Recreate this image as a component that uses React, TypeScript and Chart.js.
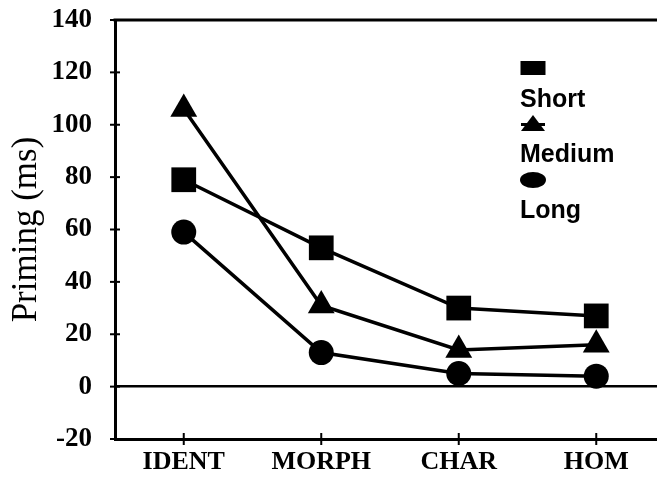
import React, { useEffect, useRef } from "react";
import { Chart, registerables } from "chart.js";

Chart.register(...registerables);

const categories = ["IDENT", "MORPH", "CHAR", "HOM"];
const seriesNames = ["Short", "Medium", "Long"];
const shortValues = [79, 53, 30, 27];
const mediumValues = [106, 31, 14, 16];
const longValues = [59, 13, 5, 4];
const yTicks = [-20, 0, 20, 40, 60, 80, 100, 120, 140];
const yTitle = "Priming (ms)";

const BLACK = "#000000";

const framePlugin = {
  id: "frame",
  afterDraw(chart: any) {
    const { ctx, chartArea } = chart;
    const xs = chart.scales.x;
    const ys = chart.scales.y;
    ctx.save();
    ctx.strokeStyle = BLACK;
    // top border
    ctx.lineWidth = 3;
    ctx.beginPath();
    ctx.moveTo(chartArea.left - 1.5, chartArea.top);
    ctx.lineTo(chartArea.right + 5, chartArea.top);
    ctx.stroke();
    // crossing ticks
    ctx.lineWidth = 2;
    yTicks.forEach((v) => {
      const py = ys.getPixelForValue(v);
      ctx.beginPath();
      ctx.moveTo(chartArea.left - 5, py);
      ctx.lineTo(chartArea.left + 5, py);
      ctx.stroke();
    });
    categories.forEach((_, i) => {
      const px = xs.getPixelForValue(i);
      ctx.beginPath();
      ctx.moveTo(px, chartArea.bottom - 6);
      ctx.lineTo(px, chartArea.bottom + 6);
      ctx.stroke();
    });
    // legend
    const lx = 533;
    const tx = 520;
    const markerY = [68, 124, 180];
    const textY = [100, 155, 211];
    ctx.fillStyle = BLACK;
    // square
    ctx.fillRect(lx - 12.5, markerY[0] - 7, 25, 14);
    // triangle
    ctx.beginPath();
    ctx.moveTo(lx, markerY[1] - 9);
    ctx.lineTo(lx + 12, markerY[1] + 7);
    ctx.lineTo(lx - 12, markerY[1] + 7);
    ctx.closePath();
    ctx.fill();
    ctx.fillRect(lx - 12, markerY[1] - 1, 24, 3);
    // ellipse
    ctx.beginPath();
    ctx.ellipse(lx, markerY[2], 13, 8, 0, 0, Math.PI * 2);
    ctx.fill();
    ctx.font = "bold 25px 'Liberation Sans', Arial, sans-serif";
    ctx.textAlign = "left";
    ctx.textBaseline = "middle";
    seriesNames.forEach((name, i) => {
      ctx.fillText(name, tx, textY[i]);
    });
    ctx.restore();
  },
};

export default function App() {
  const canvasRef = useRef<HTMLCanvasElement | null>(null);

  useEffect(() => {
    const canvas = canvasRef.current;
    if (!canvas) return;
    const leftW = 115;
    const spacing = 137.5;
    const xMin = -0.5;
    const xMax = xMin + (657 - leftW) / spacing;

    const mk = (vals: number[]) => vals.map((v, i) => ({ x: i, y: v }));
    const common = {
      borderColor: BLACK,
      backgroundColor: BLACK,
      borderWidth: 3.5,
      pointBackgroundColor: BLACK,
      pointBorderColor: BLACK,
      pointBorderWidth: 0,
      clip: false,
    };

    const chart = new Chart(canvas, {
      type: "line",
      data: {
        datasets: [
          { ...common, label: seriesNames[0], data: mk(shortValues), pointStyle: "rect", pointRadius: 17.5 },
          { ...common, label: seriesNames[1], data: mk(mediumValues), pointStyle: "triangle", pointRadius: 15.5 },
          { ...common, label: seriesNames[2], data: mk(longValues), pointStyle: "circle", pointRadius: 12.5 },
        ],
      },
      options: {
        responsive: false,
        animation: false,
        layout: { autoPadding: false, padding: { top: 20, left: 0, right: 0, bottom: 0 } },
        plugins: {
          legend: { display: false },
          tooltip: { enabled: false },
        },
        scales: {
          x: {
            type: "linear",
            min: xMin,
            max: xMax,
            afterBuildTicks: (scale: any) => {
              scale.ticks = categories.map((_, i) => ({ value: i }));
            },
            afterFit: (scale: any) => {
              scale.height = 38;
              scale.paddingLeft = 0;
              scale.paddingRight = 0;
            },
            grid: { display: true, color: "transparent", drawTicks: false },
            border: { display: true, color: BLACK, width: 3 },
            ticks: {
              color: BLACK,
              padding: 8,
              autoSkip: false,
              maxRotation: 0,
              font: { family: "'Liberation Serif', 'Times New Roman', serif", size: 26, weight: "bold" },
              callback: (v: any) => categories[v] ?? "",
            },
          },
          y: {
            type: "linear",
            min: -20,
            max: 140,
            afterBuildTicks: (scale: any) => {
              scale.ticks = yTicks.map((v) => ({ value: v }));
            },
            afterFit: (scale: any) => {
              scale.width = leftW;
              scale.paddingTop = 0;
              scale.paddingBottom = 0;
            },
            grid: {
              display: true,
              drawTicks: false,
              drawOnChartArea: true,
              color: (ctx: any) => (ctx.tick && ctx.tick.value === 0 ? BLACK : "transparent"),
              lineWidth: 2.5,
            },
            border: { display: true, color: BLACK, width: 3 },
            ticks: {
              color: BLACK,
              padding: 23,
              font: { family: "'Liberation Serif', 'Times New Roman', serif", size: 27, weight: "bold" },
            },
            title: {
              display: true,
              text: yTitle,
              color: BLACK,
              padding: { top: 6, bottom: 0 },
              font: { family: "'Liberation Serif', 'Times New Roman', serif", size: 35, weight: "normal" },
            },
          },
        },
      },
      plugins: [framePlugin],
    });
    return () => chart.destroy();
  }, []);

  return (
    <div style={{ position: "absolute", left: 0, top: 0, width: 657, height: 477, background: "#fff" }}>
      <canvas ref={canvasRef} width={657} height={477} style={{ display: "block" }} />
    </div>
  );
}
